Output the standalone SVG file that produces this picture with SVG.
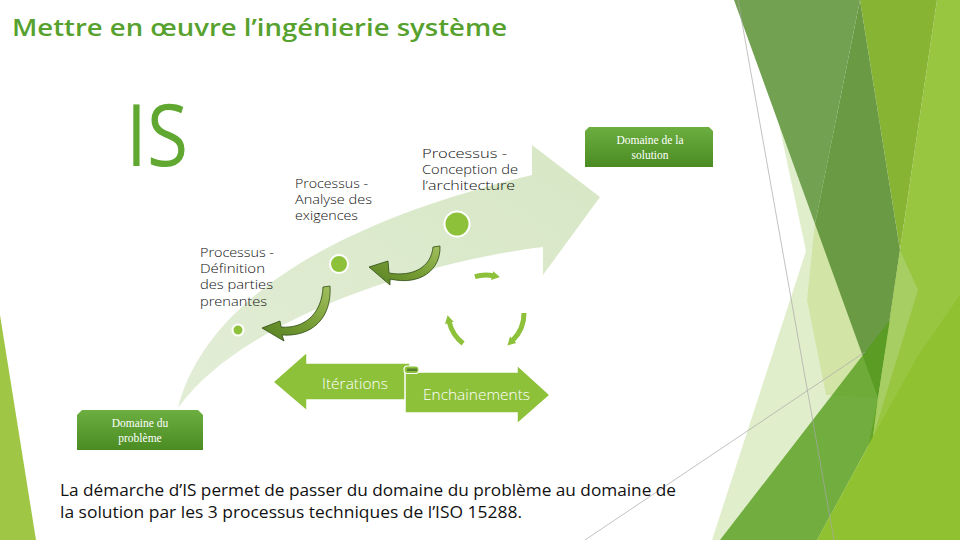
<svg xmlns="http://www.w3.org/2000/svg" width="960" height="540" viewBox="0 0 960 540">
<defs>
<style>
.lbl{font-family:"Open Sans","Liberation Sans",sans-serif;font-weight:300;fill:#111;}
.box{font-family:"Liberation Serif",serif;font-size:11.5px;fill:#fff;text-anchor:middle;}
.arrtxt{font-family:"Open Sans","Liberation Sans",sans-serif;font-weight:300;font-size:15px;fill:#fff;}
.dot{fill:#8dc13a;stroke:#fff;stroke-width:2;}
.cyc{fill:none;stroke:#8dc13a;stroke-width:5;marker-end:url(#hd);}
.curv{fill:url(#olive);stroke:#2f4d14;stroke-width:0.8;}
.blk{fill:#8dc13a;stroke:#fff;stroke-width:1.5;}
.gl{stroke:#a8a8a8;stroke-width:0.7;fill:none;}
</style>
<linearGradient id="boxg" x1="0" y1="0" x2="0" y2="1">
<stop offset="0" stop-color="#6cae40"/><stop offset="1" stop-color="#4a8c22"/>
</linearGradient>
<linearGradient id="olive" x1="1" y1="0" x2="0" y2="1">
<stop offset="0" stop-color="#a2c05e"/><stop offset="0.5" stop-color="#769c34"/><stop offset="1" stop-color="#557f22"/>
</linearGradient>
<linearGradient id="pale" x1="0" y1="1" x2="1" y2="0">
<stop offset="0" stop-color="#e2edd6"/><stop offset="1" stop-color="#d7e7c5"/>
</linearGradient>
<marker id="hd" markerUnits="userSpaceOnUse" markerWidth="10" markerHeight="12" refX="1" refY="6" orient="auto">
<path d="M0,1.5 L8,6 L0,10.5 Z" fill="#8dc13a"/>
</marker>
</defs>
<rect width="960" height="540" fill="#fff"/>
<g id="background">
<polygon points="0,315 36,540 0,540" fill="#a0c646"/>
<polygon points="777,115 806,251 712,540 880,540 880,115" fill="#e1eecc"/>
<polygon points="815,222 807,300 826,395 878,398 845,222" fill="#d2e5a6"/>
<polygon points="937,0 960,0 960,540 850,540 878,398 900,250" fill="#98c640"/>
<polygon points="860,0 937,0 900,250" fill="#87b533"/>
<polygon points="734,0 860,0 815,224" fill="#72a152"/>
<polygon points="860,0 900,250 878,398 815,224" fill="#6a9a43"/>
<polygon points="720,540 890,320 878,398 873,437 817,540" fill="#569c1d" fill-opacity="0.8"/>
<polygon points="900,250 918,290 873,437 878,398 890,320" fill="#a6ce62"/>
<polygon points="817,540 873,437 917,357 960,295 960,540" fill="#90c130"/>
<line class="gl" x1="738" y1="0" x2="834" y2="540"/>
<line class="gl" x1="585" y1="540" x2="865" y2="352"/>
</g>
<text x="12" y="36" font-family="Open Sans, Liberation Sans, sans-serif" font-weight="600" font-size="24" fill="#57a12e" textLength="495" lengthAdjust="spacingAndGlyphs">Mettre en œuvre l’ingénierie système</text>
<text x="126" y="166" font-family="Open Sans, Liberation Sans, sans-serif" font-weight="400" font-size="86" fill="#60a832" textLength="62" lengthAdjust="spacingAndGlyphs">IS</text>
<g id="big-arrow">
<path d="M178,408 C200,320 300,230 532,175 L532,145 L600,197 L543,275 L543,247 C420,262 240,320 178,408 Z" fill="url(#pale)"/>
</g>
<g id="node-definition">
<circle class="dot" cx="238" cy="330" r="5.5"/>
<text class="lbl" font-size="12.5"><tspan x="200" y="257" textLength="74" lengthAdjust="spacingAndGlyphs">Processus -</tspan><tspan x="200" y="273" textLength="65" lengthAdjust="spacingAndGlyphs">Définition</tspan><tspan x="200" y="289" textLength="73" lengthAdjust="spacingAndGlyphs">des parties</tspan><tspan x="200" y="306" textLength="67" lengthAdjust="spacingAndGlyphs">prenantes</tspan></text>
</g>
<g id="node-analyse">
<circle class="dot" cx="339" cy="264" r="9"/>
<text class="lbl" font-size="12.5"><tspan x="295" y="188" textLength="73" lengthAdjust="spacingAndGlyphs">Processus -</tspan><tspan x="295" y="204" textLength="77" lengthAdjust="spacingAndGlyphs">Analyse des</tspan><tspan x="295" y="220" textLength="63" lengthAdjust="spacingAndGlyphs">exigences</tspan></text>
</g>
<g id="node-conception">
<circle class="dot" cx="457" cy="224" r="12.5"/>
<text class="lbl" font-size="12.5"><tspan x="422" y="158" textLength="85" lengthAdjust="spacingAndGlyphs">Processus -</tspan><tspan x="422" y="174" textLength="96" lengthAdjust="spacingAndGlyphs">Conception de</tspan><tspan x="422" y="190" textLength="93" lengthAdjust="spacingAndGlyphs">l’architecture</tspan></text>
</g>
<g id="connectors">
<path class="curv" d="M323,287 L330,286 C332,318 312,337 282,335 L284,341 L262,328 L280,321 L281,327 C306,329 322,312 323,287 Z"/>
<path class="curv" d="M433,247 L440,246 C441,270 420,286 390,279 L390,285 L369,267 L388,261 L389,273 C412,277 431,268 433,247 Z"/>
<path class="cyc" d="M474.9,276.7 A38,38 0 0 1 493,275.7"/>
<path class="cyc" d="M463.1,343.4 A38,38 0 0 1 449.2,322"/>
<path class="cyc" d="M524,313 A38,38 0 0 1 512.5,340.5"/>
</g>
<g id="node-iterations">
<polygon class="blk" points="273,382 307,352 307,363 410,363 410,400 307,400 307,411"/>
<text class="arrtxt" x="322" y="389" textLength="66" lengthAdjust="spacingAndGlyphs">Itérations</text>
</g>
<g id="node-enchainements">
<polygon class="blk" points="405,372 517,372 517,365 550,395 517,424 517,413 405,413"/>
<rect x="404" y="366" width="15" height="7.5" rx="3.5" fill="#8dc13a" stroke="#fff" stroke-width="1.2"/>
<rect x="407" y="368.5" width="10" height="2.6" fill="#557f2e"/>
<text class="arrtxt" x="423" y="400" textLength="107" lengthAdjust="spacingAndGlyphs">Enchainements</text>
</g>
<g id="node-solution">
<path d="M589,127 L709,127 L713,131 L713,167 L585,167 L585,131 Z" fill="url(#boxg)"/>
<text class="box"><tspan x="650" y="144">Domaine de la</tspan><tspan x="650" y="159">solution</tspan></text>
</g>
<g id="node-probleme">
<path d="M82,410 L198,410 L203,415 L203,450 L77,450 L77,415 Z" fill="url(#boxg)"/>
<text class="box"><tspan x="140" y="427">Domaine du</tspan><tspan x="140" y="442">problème</tspan></text>
</g>
<text font-family="Open Sans, Liberation Sans, sans-serif" font-weight="500" font-size="16" fill="#111"><tspan x="60" y="496" textLength="616" lengthAdjust="spacingAndGlyphs">La démarche d’IS permet de passer du domaine du problème au domaine de</tspan><tspan x="60" y="518" textLength="462" lengthAdjust="spacingAndGlyphs">la solution par les 3 processus techniques de l’ISO 15288.</tspan></text>
</svg>
